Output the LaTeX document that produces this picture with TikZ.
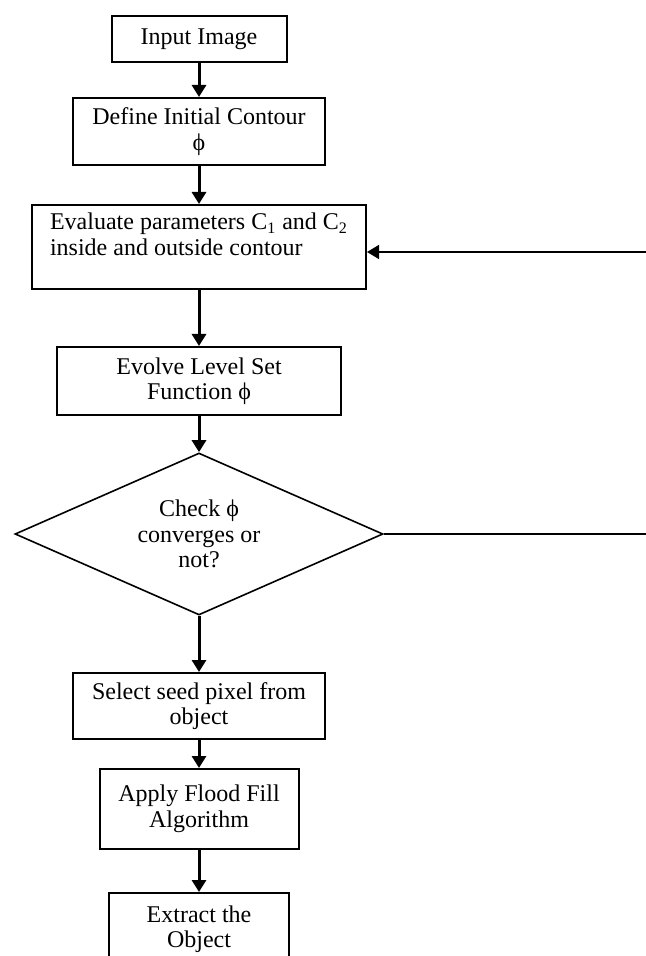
\documentclass[tikz,border=0pt]{standalone}
\usepackage{fontspec}
\setmainfont{Liberation Serif}
\usepackage{tikz}
\usetikzlibrary{shapes.geometric,arrows.meta}
\newcommand{\boxfont}{\fontsize{12}{12.75}\selectfont}
\tikzset{
  block/.style = {draw = black, line width = 1pt, fill = white, align = center, inner sep = 0pt, font = \boxfont},
  decision/.style = {block, diamond, aspect = 2.27, line width = 0.8pt},
  flow/.style = {line width = 1.5pt, -{Triangle[width = 7pt, length = 6pt]}},
  backflow/.style = {line width = 0.8pt}
}
\begin{document}
\begin{tikzpicture}[x = 0.5pt, y = -0.5pt]
        \useasboundingbox (0,0) rectangle (646,956);
        \clip (0,0) rectangle (646,956);
        \node (input)[block, minimum width = 87.5pt, minimum height = 23pt] at (199,39) {Input Image};
        \node (define)[block, minimum width = 126pt, minimum height = 33.5pt] at (199,131.5) {Define Initial Contour\\ϕ};
        \node (evaluate)[block, align = left, minimum width = 167pt, minimum height = 42pt] at (199,247)
        {Evaluate parameters C\textsubscript{1} and C\textsubscript{2}\\inside and outside contour\\\mbox{}};
        \node (evolve)[block, minimum width = 142pt, minimum height = 34pt] at (199,381) {Evolve Level Set\\Function ϕ};
        \node (check)[decision, minimum width = 184pt, minimum height = 81pt] at (199,534) {Check ϕ\\converges or\\not?};
        \node (select)[block, minimum width = 126pt, minimum height = 33pt] at (199,706) {Select seed pixel from\\object};
        \node (apply)[block, minimum width = 99.5pt, minimum height = 40pt] at (199,809) {Apply Flood Fill\\Algorithm};
        \node (extract)[block, minimum width = 90pt, minimum height = 36pt] at (199,929) {Extract the\\Object};
        \coordinate (loop_in) at (646,252);
        \coordinate (loop_out) at (646,534);
        \path(input) edge[flow] (define);
        \path(define) edge[flow] (evaluate);
        \path(evaluate) edge[flow] (evolve);
        \path(evolve) edge[flow] (check);
        \path(check) edge[flow] (select);
        \path(select) edge[flow] (apply);
        \path(apply) edge[flow] (extract);
        \path(loop_in) edge[flow, backflow] (evaluate.east |- loop_in);
        \path(check.east) edge[backflow] (loop_out);
    \end{tikzpicture}
\end{document}
